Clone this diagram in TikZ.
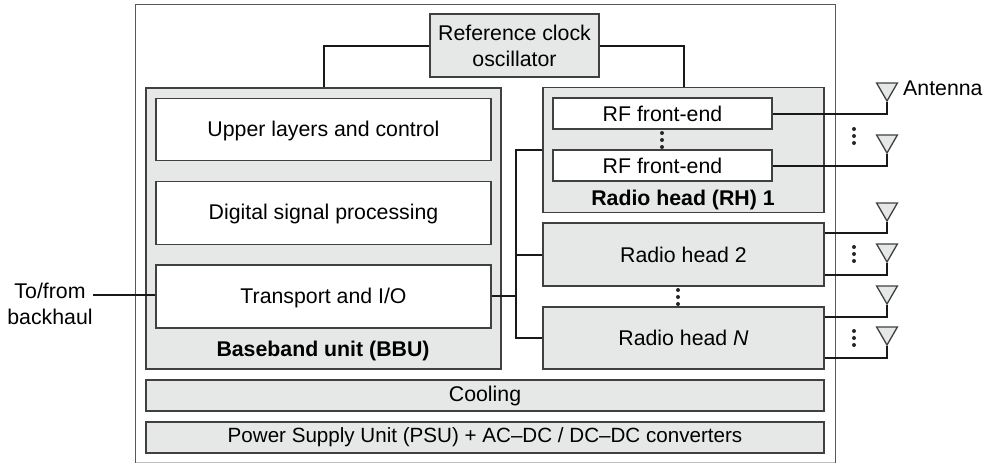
\documentclass[tikz,border=0pt]{standalone}
\usepackage{fontspec}
\setmainfont{Liberation Sans}
\usetikzlibrary{shapes.geometric}
\definecolor{boxgray}{HTML}{E6E7E7}
\tikzstyle{gray box}=[draw=black!75,line width=1.4pt,fill=boxgray,inner sep=0pt,align=center]
\tikzstyle{white box}=[gray box,fill=white]
\tikzstyle{layer box}=[white box,minimum width=335pt,text height=17pt,text depth=3.5pt]
\tikzstyle{antenna}=[regular polygon,regular polygon sides=3,shape border rotate=180,draw=black!75,line width=1.3pt,fill=boxgray,minimum size=24pt,inner sep=0pt]
\tikzstyle{wire}=[draw,line width=2pt,black!90,-]
\begin{document}
\begin{tikzpicture}[x=1pt,y=-1pt,every node/.style={font=\fontsize{21.3}{26}\selectfont}]
    \useasboundingbox (0,0) rectangle (986,463);
    % outer frame, the bottom edge is fainter
    \draw[black!25,line width=1pt] (135,462) -- (835,462);
    \draw[black!65,line width=1pt] (135,463) -- (135,4) -- (835,4) -- (835,463);

    % First we draw the blocks
    \foreach \x/\y/\w/\h/\name/\txt in {514.5/45.5/169/63/clock/{Reference clock\\oscillator},
        323.5/228.5/355/281/bbu/{}, 683.5/150/281/125/rhone/{},
        683.5/254.5/281/63/rhtwo/{Radio head 2}, 683.5/338/281/62/rhn/{Radio head \textit{N}},
        485/395.5/678/31/cooling/{Cooling}, 485/437.5/678/31/psu/{\fontsize{20.6}{26}\selectfont Power Supply Unit (PSU) + AC--DC / DC--DC converters}}
        \node[gray box,minimum width=\w pt,minimum height=\h pt] (\name) at (\x,\y) {\txt};

    \foreach \y/\h/\name/\txt in {129.5/62/upper/{Upper layers and control},
        213/63/dsp/{Digital signal processing}, 296.5/63/transport/{Transport and I/O}}
        \node[layer box,minimum height=\h pt] (\name) at (323.5,\y) {\txt};

    \foreach \y/\name in {113.5/rfone, 165.5/rftwo}
        \node[white box,minimum width=219pt,minimum height=31pt] (\name) at (662.5,\y) {RF front-end};

    \node[font=\fontsize{21.3}{26}\selectfont\bfseries] (bbulabel) at (323,351) {Baseband unit (BBU)};
    \node[font=\fontsize{21.3}{26}\selectfont\bfseries] (rhlabel) at (683,200) {Radio head (RH) 1};
    \node[inner sep=0pt,anchor=west] (antlabel) at (903,88) {Antenna};
    \node[inner sep=0pt,align=center] (backhaul) at (50,304) {To/from\\backhaul};
    \coordinate (backhaulend) at (93,294.5);

    % Antennas
    \foreach \y/\name in {89/a, 141/b, 209/c, 250/d, 292/e, 333/f}
        \node[antenna] (ant\name) at (887,\y) {};
    \foreach \pos/\name in {{(854,136)/a}, {(662,140)/b}, {(854,254)/c}, {(678,297)/d}, {(854,338)/e}}
        \foreach \d in {-7,0,7}
            \fill[black!85] \pos ++(0,\d) circle (2pt);

    % Connect blocks with wires
    \path[wire] (clock.west) -| (bbu.north);
    \path[wire] (clock.east) -| (rhone.north);
    \path[wire] (backhaulend) -- (transport.west |- backhaulend);
    \coordinate (bus) at (516,295.5);
    \path[wire] (transport.east |- bus) -- (bus);
    \path[wire] (bus) |- (rhone.west);
    \path[wire] (bus) |- (rhtwo.west);
    \path[wire] (bus) |- (rhn.west);
    \path[wire] (rfone.east) -| (anta.south);
    \path[wire] (rftwo.east) -| (antb.south);
    \foreach \y/\name/\block in {233/c/rhtwo, 275/d/rhtwo, 317/e/rhn, 358/f/rhn}
        \path[wire] (\block.east |- 0,\y) -| (ant\name.south);
\end{tikzpicture}
\end{document}
